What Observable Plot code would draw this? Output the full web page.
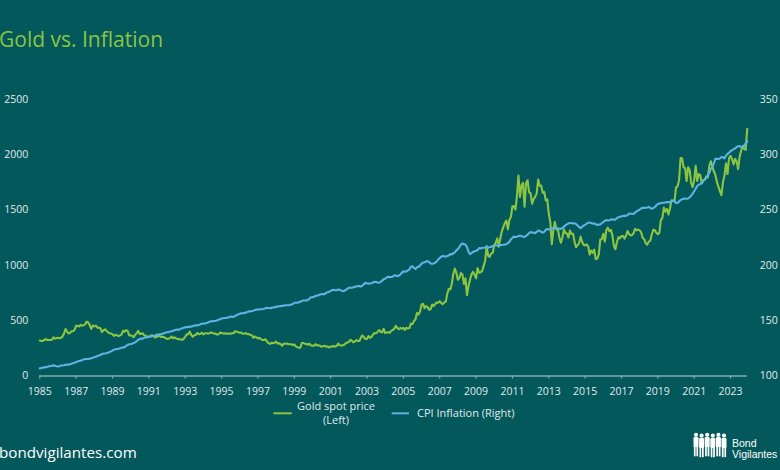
<!DOCTYPE html>
<html><head><meta charset="utf-8">
<script src="https://cdn.jsdelivr.net/npm/d3@7"></script>
<script src="https://cdn.jsdelivr.net/npm/@observablehq/plot@0.6"></script>
<style>
html,body{margin:0;padding:0;background:#03585C;}
#wrap{position:relative;width:780px;height:470px;overflow:hidden;background:#03585C;font-family:"Open Sans",sans-serif;}
#chart{position:absolute;left:0;top:85px;}
#overlay{position:absolute;left:0;top:0;}
</style></head><body>
<div id="wrap">
<div id="chart"></div>
<svg id="overlay" width="780" height="470" xmlns="http://www.w3.org/2000/svg"></svg>
</div>
<script>
// Monthly series, first value at the chart's 1985 tick, one value per month
const startYear = 1985;
const xTicks = [1985,1987,1989,1991,1993,1995,1997,1999,2001,2003,2005,2007,2009,2011,2013,2015,2017,2019,2021,2023];
const leftTicks = [0,500,1000,1500,2000,2500];
const rightTicks = [100,150,200,250,300,350];
const seriesNames = ["Gold spot price", "(Left)", "CPI Inflation (Right)"];

const goldPrice = [
 321,316,317,327,333,326,326,325,327,
 350,338,344,345,342,345,357,384,424,402,384,391,
 406,405,419,455,452,448,463,454,460,469,492,484,
 458,426,457,449,455,437,437,432,397,412,422,410,
 395,387,385,377,362,373,368,360,367,377,409,401,
 415,407,368,367,363,352,373,388,408,380,383,386,
 366,364,355,357,361,368,362,348,355,358,367,353,
 354,353,341,336,337,343,357,340,349,339,334,333,
 330,327,337,354,378,378,401,371,355,369,371,391,
 378,381,391,376,387,387,384,385,394,389,383,383,
 375,376,392,389,385,387,383,382,384,382,387,387,
 405,400,396,391,392,382,385,387,379,379,371,369,
 345,358,349,340,345,334,326,325,332,311,297,290,
 301,297,301,310,293,296,288,273,294,292,294,288,
 287,287,279,286,268,261,255,255,299,299,291,290,
 283,293,276,275,272,288,277,277,273,264,270,274,
 265,267,258,264,268,270,265,273,293,279,275,277,
 282,297,302,308,327,318,304,313,324,317,317,347,
 368,348,334,336,361,346,354,375,388,386,398,416,
 399,395,427,388,393,395,391,408,416,428,453,435,
 422,435,427,435,417,437,429,433,473,470,496,513,
 569,556,582,645,653,614,633,623,600,604,646,632,
 650,665,662,677,659,650,665,672,743,789,783,834,
 923,971,933,871,886,930,918,833,884,730,814,870,
 919,942,916,883,975,934,939,949,996,1040,1175,1087,
 1078,1109,1115,1180,1207,1244,1169,1246,1307,1346,1383,1405,
 1327,1411,1439,1535,1536,1505,1628,1813,1620,1722,1746,1531,
 1744,1770,1662,1651,1558,1598,1622,1648,1776,1720,1721,1657,
 1664,1588,1598,1469,1394,1192,1314,1394,1326,1324,1253,1205,
 1251,1326,1292,1288,1251,1315,1285,1286,1217,1164,1183,1199,
 1260,1214,1187,1180,1190,1172,1098,1135,1114,1142,1057,1060,
 1098,1234,1237,1285,1215,1320,1342,1309,1322,1272,1178,1146,
 1212,1255,1245,1266,1266,1243,1268,1311,1283,1270,1275,1291,
 1331,1317,1324,1317,1298,1250,1237,1200,1187,1215,1222,1279,
 1321,1319,1295,1283,1295,1409,1428,1523,1485,1511,1461,1515,
 1589,1585,1577,1703,1715,1768,1971,1968,1887,1879,1763,1888,
 1864,1743,1708,1769,1900,1763,1825,1818,1743,1769,1774,1806,
 1797,1900,1942,1897,1849,1818,1753,1712,1672,1634,1753,1813,
 1923,1826,1969,1990,1962,1912,1963,1939,1871,1983,2036,2078,
 2053,2044,2235
];

const cpiIndex = [
 106.9,107.3,107.6,107.8,108.0,108.3,108.7,109.0,109.3,
 109.6,109.3,108.8,108.6,108.9,109.5,109.5,109.7,110.2,110.3,110.4,110.5,
 111.2,111.6,112.1,112.7,113.1,113.5,113.8,114.4,115.0,115.3,115.4,115.4,
 115.7,116.0,116.5,117.1,117.5,118.0,118.5,119.0,119.8,120.2,120.3,120.5,
 121.1,121.6,122.3,123.1,123.8,124.1,124.4,124.6,125.0,125.6,125.9,126.1,
 127.4,128.0,128.7,128.9,129.2,129.9,130.4,131.6,132.7,133.5,133.8,133.8,
 134.6,134.8,135.0,135.2,135.6,136.0,136.2,136.6,137.2,137.4,137.8,137.9,
 138.1,138.6,139.3,139.5,139.7,140.2,140.5,140.9,141.3,141.8,142.0,141.9,
 142.6,143.1,143.6,144.0,144.2,144.4,144.4,144.8,145.1,145.7,145.8,145.8,
 146.2,146.7,147.2,147.4,147.5,148.0,148.4,149.0,149.4,149.5,149.7,149.7,
 150.3,150.9,151.4,151.9,152.2,152.5,152.5,152.9,153.2,153.7,153.6,153.5,
 154.4,154.9,155.7,156.3,156.6,156.7,157.0,157.3,157.8,158.3,158.6,158.6,
 159.1,159.6,160.0,160.2,160.1,160.3,160.5,160.8,161.2,161.6,161.5,161.3,
 161.6,161.9,162.2,162.5,162.8,163.0,163.2,163.4,163.6,164.0,164.0,163.9,
 164.3,164.5,165.0,166.2,166.2,166.2,166.7,167.1,167.9,168.2,168.3,168.3,
 168.8,169.8,171.2,171.3,171.5,172.4,172.8,172.8,173.7,174.0,174.1,174.0,
 175.1,175.8,176.2,176.9,177.7,178.0,177.5,177.5,178.3,177.7,177.4,176.7,
 177.1,177.8,178.8,179.8,179.8,179.9,180.1,180.7,181.0,181.3,181.3,180.9,
 181.7,183.1,184.2,183.8,183.5,183.7,183.9,184.6,185.2,185.0,184.5,184.3,
 185.2,186.2,187.4,188.0,189.1,189.7,189.4,189.5,189.9,190.9,191.0,190.3,
 190.7,191.8,193.3,194.6,194.4,194.5,195.4,196.4,198.8,199.2,197.6,196.8,
 198.3,198.7,199.8,201.5,202.5,202.9,203.5,203.9,202.9,201.8,201.5,201.8,
 202.4,203.5,205.4,206.7,207.9,208.4,208.3,207.9,208.5,208.9,210.2,210.0,
 211.1,211.7,213.5,214.8,216.6,218.8,220.0,219.1,218.8,216.6,212.4,210.2,
 211.1,212.2,212.7,213.2,213.9,215.7,215.4,215.8,216.0,216.2,216.3,215.9,
 216.7,216.7,217.6,218.0,218.2,218.0,218.0,218.3,218.4,218.7,218.8,219.2,
 220.2,221.3,223.5,224.9,226.0,225.7,225.9,226.5,226.9,226.4,226.2,225.7,
 226.7,227.7,229.4,230.1,229.8,229.5,229.1,230.4,231.4,231.3,230.2,229.6,
 230.3,232.2,232.8,232.5,232.9,233.5,233.6,233.9,234.1,233.5,233.1,233.0,
 233.9,234.8,236.3,237.1,237.9,238.3,238.3,237.9,238.0,237.4,236.2,234.8,
 233.7,234.7,236.1,236.6,237.8,238.6,238.7,238.3,237.9,237.8,237.3,236.5,
 236.9,237.1,238.1,239.3,240.2,241.0,240.6,240.8,241.4,241.7,241.4,241.4,
 242.8,243.6,243.8,244.5,244.7,245.0,244.8,245.5,246.8,246.7,246.7,246.5,
 247.9,249.0,249.6,250.5,251.6,252.0,252.0,252.1,252.4,252.9,252.0,251.2,
 251.7,252.8,254.2,255.5,256.1,256.1,256.6,256.6,256.8,257.3,257.2,257.0,
 258.0,258.7,258.1,256.4,256.4,257.8,259.1,259.9,260.3,260.4,260.2,260.5,
 261.6,263.0,264.9,267.1,269.2,271.7,273.0,273.6,274.3,276.6,277.9,278.8,
 281.1,283.7,287.5,289.1,292.3,296.3,296.3,296.2,296.8,298.0,297.7,296.8,
 299.2,300.8,301.8,303.4,304.1,305.1,305.7,307.0,307.8,307.7,307.1,306.7,
 308.4,310.3,312.3
];

const axisColor = "#84abab";
const labelColor = "#e0eaea";
const goldColor = "#8cc540";
const cpiColor = "#5db3e4";

const rows = goldPrice.map((g, i) => ({t: startYear + i / 12, gold: g, cpi: cpiIndex[i]}));
const k = (leftTicks[leftTicks.length - 1] - leftTicks[0]) / (rightTicks[rightTicks.length - 1] - rightTicks[0]);
const toLeft = v => (v - rightTicks[0]) * k;

const chart = Plot.plot({
  width: 780, height: 315,
  marginLeft: 39.3, marginRight: 33.3, marginTop: 14, marginBottom: 24.5,
  style: {background: "transparent", color: labelColor, fontFamily: "'Open Sans', sans-serif", fontSize: "10.5px"},
  x: {type: "linear", domain: [startYear, startYear + (goldPrice.length - 1) / 12], label: null},
  y: {domain: [leftTicks[0], leftTicks[leftTicks.length - 1]], label: null},
  marks: [
    Plot.ruleY([0], {stroke: axisColor, strokeWidth: 1.6}),
    Plot.axisX(xTicks, {tickSize: 3, tickPadding: 9, stroke: axisColor, color: labelColor, strokeWidth: 1.2, tickFormat: d => String(d), label: null}),
    Plot.axisY(leftTicks, {anchor: "left", tickSize: 0, tickPadding: 11.6, color: labelColor, tickFormat: d => String(d), label: null}),
    Plot.axisY(rightTicks.map(toLeft), {anchor: "right", tickSize: 0, tickPadding: 12.6, color: labelColor, tickFormat: (d, i) => String(rightTicks[i]), label: null}),
    Plot.line(rows, {x: "t", y: "gold", stroke: goldColor, strokeWidth: 2.1}),
    Plot.line(rows, {x: "t", y: d => toLeft(d.cpi), stroke: cpiColor, strokeWidth: 2.1})
  ]
});
document.getElementById("chart").appendChild(chart);

// Title, legend, footer and logo
const ns = "http://www.w3.org/2000/svg";
const ov = document.getElementById("overlay");
function el(tag, attrs, text) {
  const e = document.createElementNS(ns, tag);
  for (const a in attrs) e.setAttribute(a, attrs[a]);
  if (text != null) e.textContent = text;
  ov.appendChild(e);
  return e;
}
const font = "'Open Sans', sans-serif";
el("text", {x: -1, y: 47, fill: goldColor, "font-family": font, "font-size": 21}, "Gold vs. Inflation");
// legend
el("line", {x1: 273.3, x2: 291.7, y1: 413.3, y2: 413.3, stroke: goldColor, "stroke-width": 2});
el("text", {x: 336, y: 410, fill: labelColor, "font-family": font, "font-size": 11, "text-anchor": "middle"}, seriesNames[0]);
el("text", {x: 336, y: 424, fill: labelColor, "font-family": font, "font-size": 11, "text-anchor": "middle"}, seriesNames[1]);
el("line", {x1: 391.7, x2: 409, y1: 413.3, y2: 413.3, stroke: cpiColor, "stroke-width": 2});
el("text", {x: 417, y: 417.3, fill: labelColor, "font-family": font, "font-size": 11}, seriesNames[2]);
// footer
el("text", {x: -1, y: 457.5, fill: "#ffffff", "font-family": font, "font-size": 15.2}, "bondvigilantes.com");
// logo figures
for (let j = 0; j < 6; j++) {
  const cx = 696 + j * 5.6;
  const hy = 434.8 + (j % 2) * 0.9;
  el("circle", {cx: cx, cy: hy, r: 2.1, fill: "#ffffff"});
  el("rect", {x: cx - 2.5, y: hy + 2.3, width: 5, height: 10, rx: 1.2, fill: "#ffffff"});
  el("rect", {x: cx - 2.1, y: hy + 11, width: 1.7, height: 10.5, fill: "#ffffff"});
  el("rect", {x: cx + 0.4, y: hy + 11, width: 1.7, height: 10.5, fill: "#ffffff"});
}
el("text", {x: 732, y: 447, fill: "#ffffff", "font-family": "'Liberation Sans', Arial, sans-serif", "font-size": 10.5}, "Bond");
el("text", {x: 732, y: 457.5, fill: "#ffffff", "font-family": "'Liberation Sans', Arial, sans-serif", "font-size": 10.5}, "Vigilantes");
</script>
</body></html>
